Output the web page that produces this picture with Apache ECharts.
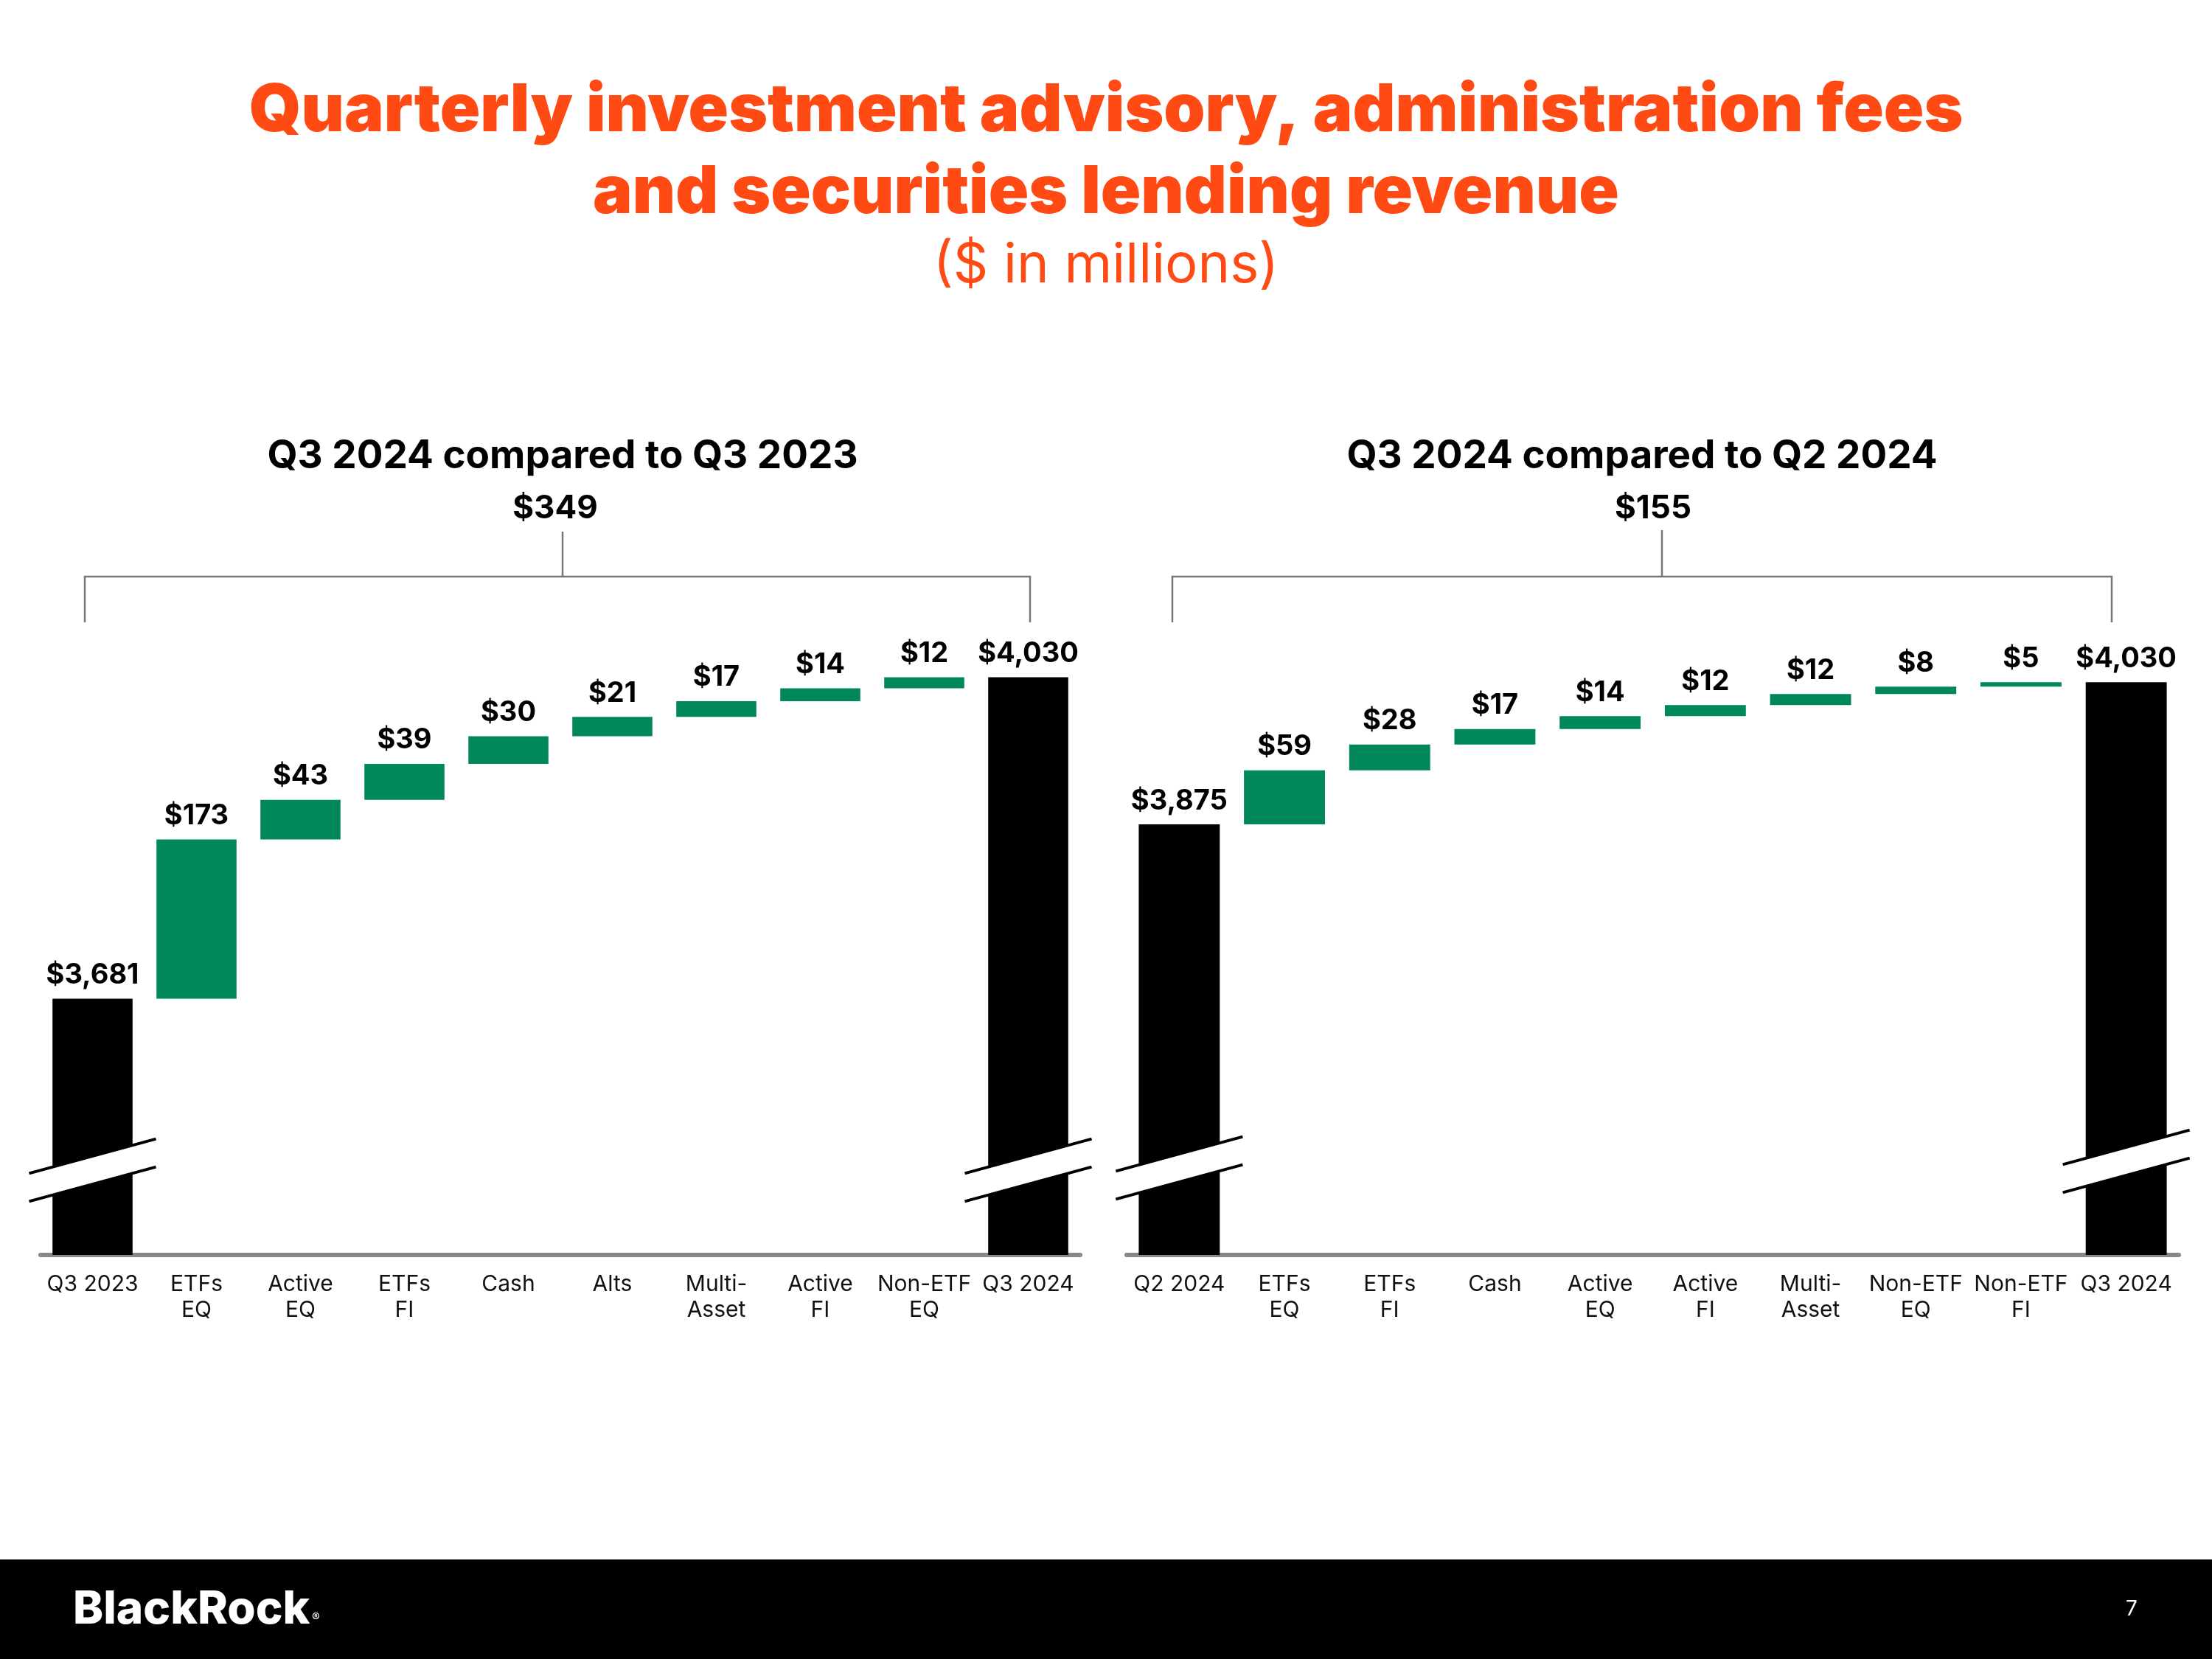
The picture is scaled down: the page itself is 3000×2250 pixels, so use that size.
<!DOCTYPE html>
<html>
<head>
<meta charset="utf-8">
<title>Quarterly investment advisory, administration fees and securities lending revenue</title>
<script src="https://cdn.jsdelivr.net/npm/echarts@6/dist/echarts.min.js"></script>
<style>
  html, body { margin: 0; padding: 0; background: #fff; }
  #chart { width: 3000px; height: 2250px; }
</style>
</head>
<body>
<div id="chart"></div>
<script>
// Q3 2024 compared to Q3 2023
var yoyCategories = ['Q3 2023', 'ETFs\nEQ', 'Active\nEQ', 'ETFs\nFI', 'Cash', 'Alts', 'Multi-\nAsset', 'Active\nFI', 'Non-ETF\nEQ', 'Q3 2024'];
var yoyStart = 3681;
var yoyChanges = [173, 43, 39, 30, 21, 17, 14, 12];
var yoyEnd = 4030;

// Q3 2024 compared to Q2 2024
var qoqCategories = ['Q2 2024', 'ETFs\nEQ', 'ETFs\nFI', 'Cash', 'Active\nEQ', 'Active\nFI', 'Multi-\nAsset', 'Non-ETF\nEQ', 'Non-ETF\nFI', 'Q3 2024'];
var qoqStart = 3875;
var qoqChanges = [59, 28, 17, 14, 12, 12, 8, 5];
var qoqEnd = 4030;

var GREEN = '#00875A';
var ORANGE = '#FF4A14';
var FONT = 'Inter, "Noto Sans", sans-serif';

function money(v) {
  return '$' + Number(v).toLocaleString('en-US');
}

// invisible base + visible part, like a usual waterfall
function waterfall(start, changes, end) {
  var base = [0];
  var shown = [{ value: start, itemStyle: { color: '#000' } }];
  var run = start;
  changes.forEach(function (c) {
    base.push(run);
    shown.push(c);
    run += c;
  });
  base.push(0);
  shown.push({ value: end, itemStyle: { color: '#000' } });
  return { base: base, shown: shown };
}

var yoy = waterfall(yoyStart, yoyChanges, yoyEnd);
var qoq = waterfall(qoqStart, qoqChanges, qoqEnd);

function catAxis(gridIndex, data) {
  return {
    type: 'category',
    gridIndex: gridIndex,
    data: data,
    axisLine: { lineStyle: { color: '#888', width: 6 } },
    axisTick: { show: false },
    axisLabel: {
      interval: 0, fontSize: 30, lineHeight: 35, color: '#111',
      margin: 22, fontFamily: FONT
    }
  };
}

function valAxis(gridIndex, min, max) {
  return { type: 'value', gridIndex: gridIndex, min: min, max: max, show: false, splitLine: { show: false } };
}

function baseSeries(idx, stack, data) {
  return {
    type: 'bar', xAxisIndex: idx, yAxisIndex: idx, stack: stack,
    barWidth: '77%', clip: true, silent: true,
    itemStyle: { color: 'transparent' },
    data: data
  };
}

function shownSeries(idx, stack, data) {
  return {
    type: 'bar', xAxisIndex: idx, yAxisIndex: idx, stack: stack,
    barWidth: '77%', clip: true,
    itemStyle: { color: GREEN },
    label: {
      show: true, position: 'top', distance: 13,
      fontSize: 38, fontWeight: 'bold', color: '#000', fontFamily: FONT,
      formatter: function (p) { return money(p.value); }
    },
    data: data
  };
}

var chartDom = document.getElementById('chart');
var myChart = echarts.init(chartDom);
var option;

option = {
  backgroundColor: '#fff',
  animation: false,
  title: [
    {
      text: 'Quarterly investment advisory, administration fees\nand securities lending revenue',
      left: 'center', top: 90,
      textStyle: { fontSize: 90, fontWeight: 900, color: ORANGE, lineHeight: 111, fontFamily: FONT }
    },
    {
      text: '($ in millions)',
      left: 'center', top: 319,
      textStyle: { fontSize: 74, fontWeight: 'normal', color: ORANGE, fontFamily: FONT }
    }
  ],
  grid: [
    { left: 55, width: 1410, top: 831, height: 871 },
    { left: 1528, width: 1427, top: 838, height: 864 }
  ],
  xAxis: [catAxis(0, yoyCategories), catAxis(1, qoqCategories)],
  yAxis: [valAxis(0, 3403, 4100), valAxis(1, 3406, 4100)],
  series: [
    baseSeries(0, 'yoy', yoy.base),
    shownSeries(0, 'yoy', yoy.shown),
    baseSeries(1, 'qoq', qoq.base),
    shownSeries(1, 'qoq', qoq.shown)
  ]
};

option && myChart.setOption(option);

// headers, brackets, footer and the axis break marks
function headerText(x, y, text, size) {
  return {
    type: 'text', x: x, y: y, z: 10,
    style: { text: text, fontSize: size, fontWeight: 'bold', fill: '#000', fontFamily: FONT, align: 'center', verticalAlign: 'top' }
  };
}

function bracket(x1, x2, xm, ym) {
  return [
    { type: 'polyline', z: 10, shape: { points: [[x1, 844], [x1, 782], [x2, 782], [x2, 844]] }, style: { stroke: '#777', lineWidth: 2.5, fill: null } },
    { type: 'line', z: 10, shape: { x1: xm, y1: ym, x2: xm, y2: 782 }, style: { stroke: '#777', lineWidth: 2.5 } }
  ];
}

function breakMark(cx, cy) {
  var hw = 86, k = 0.272, gap = 19;
  function topY(x) { return cy - gap - k * (x - cx); }
  function botY(x) { return cy + gap - k * (x - cx); }
  var xa = cx - hw, xb = cx + hw;
  return [
    { type: 'polygon', z: 100, shape: { points: [[xa, topY(xa)], [xb, topY(xb)], [xb, botY(xb)], [xa, botY(xa)]] }, style: { fill: '#fff' } },
    { type: 'line', z: 101, shape: { x1: xa, y1: topY(xa), x2: xb, y2: topY(xb) }, style: { stroke: '#000', lineWidth: 4 } },
    { type: 'line', z: 101, shape: { x1: xa, y1: botY(xa), x2: xb, y2: botY(xb) }, style: { stroke: '#000', lineWidth: 4 } }
  ];
}

var yoyBase = myChart.convertToPixel({ yAxisIndex: 0 }, 3403);
var qoqBase = myChart.convertToPixel({ yAxisIndex: 1 }, 3406);
var last = yoyCategories.length - 1;

var graphics = [];
graphics.push(headerText(763, 593, 'Q3 2024 compared to Q3 2023', 53));
graphics.push(headerText(753, 668, money(yoyEnd - yoyStart), 44));
graphics.push(headerText(2227, 593, 'Q3 2024 compared to Q2 2024', 53));
graphics.push(headerText(2242, 668, money(qoqEnd - qoqStart), 44));
graphics = graphics.concat(bracket(115, 1397, 763, 721));
graphics = graphics.concat(bracket(1590, 2864, 2254, 719));
graphics = graphics.concat(breakMark(myChart.convertToPixel({ xAxisIndex: 0 }, 0), yoyBase - 115));
graphics = graphics.concat(breakMark(myChart.convertToPixel({ xAxisIndex: 0 }, last), yoyBase - 115));
graphics = graphics.concat(breakMark(myChart.convertToPixel({ xAxisIndex: 1 }, 0), qoqBase - 118));
graphics = graphics.concat(breakMark(myChart.convertToPixel({ xAxisIndex: 1 }, last), qoqBase - 127));

graphics.push({ type: 'rect', z: 10, shape: { x: 0, y: 2115, width: 3000, height: 135 }, style: { fill: '#000' } });
graphics.push({
  type: 'text', x: 99, y: 2152, z: 11,
  style: { text: 'BlackRock', fontSize: 62, fontWeight: 800, fill: '#fff', fontFamily: FONT, verticalAlign: 'top' }
});
graphics.push({
  type: 'text', x: 423, y: 2186, z: 11,
  style: { text: '®', fontSize: 16, fill: '#fff', fontFamily: FONT, verticalAlign: 'top' }
});
graphics.push({
  type: 'text', x: 2891, y: 2183, z: 11,
  style: { text: '7', fontSize: 28, fill: '#fff', fontFamily: FONT, align: 'center', verticalAlign: 'middle' }
});

myChart.setOption({ graphic: graphics });
</script>
</body>
</html>
